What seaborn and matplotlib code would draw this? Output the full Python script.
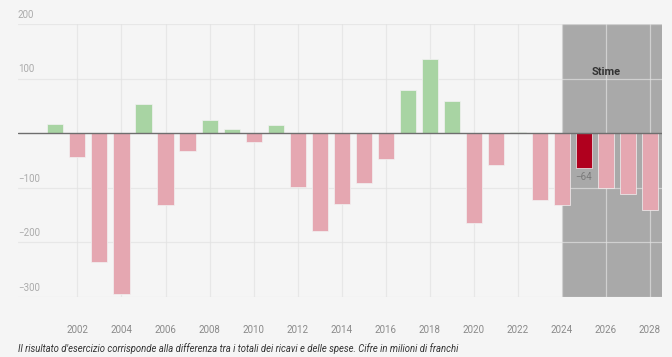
import matplotlib
matplotlib.use("Agg")
import matplotlib.pyplot as plt
import matplotlib.transforms as mtransforms
import seaborn as sns
import pandas as pd

# ---- data ----
years = list(range(2001, 2029))
values = [17, -43, -235, -295, 53, -132, -32, 24, 8, -16, 15, -99, -179, -129,
          -91, -48, 79, 136, 59, -165, -58, 2, -122, -132, -64, -101, -111, -140]
highlight_year = 2025
estimate_start = 2024
xtick_years = list(range(2002, 2029, 2))
ytick_values = [200, 100, -100, -200, -300]
ytick_labels = ["200", "100", "\u2212100", "\u2212200", "\u2212300"]
estimate_label = "Stime"
caption = ("Il risultato d'esercizio corrisponde alla differenza tra i totali dei ricavi "
           "e delle spese. Cifre in milioni di franchi")

df = pd.DataFrame({"year": years, "value": values})
df["kind"] = ["hl" if y == highlight_year else ("pos" if v >= 0 else "neg")
              for y, v in zip(df["year"], df["value"])]
palette = {"pos": "#a8d4a3", "neg": "#e5a7b1", "hl": "#b0001e"}

sns.set_theme(style="white")
plt.rcParams["font.family"] = ["Roboto", "DejaVu Sans"]

BG = "#f5f5f5"
fig = plt.figure(figsize=(6.72, 3.57), dpi=100, facecolor=BG)
ax = fig.add_axes([18 / 672, 1 - 297 / 357, (662 - 18) / 672, (297 - 24) / 357])
ax.set_facecolor(BG)

# estimates shading
ax.axvspan(estimate_start, 2028.55, color="#a9a9a9", zorder=0.2, lw=0)

sns.barplot(data=df, x="year", y="value", hue="kind", palette=palette,
            native_scale=True, dodge=False, width=0.73, legend=False,
            saturation=1, edgecolor="#f2f2f2", linewidth=0.5, ax=ax, zorder=2)

ax.set_xlim(1999.3, 2028.55)
ax.set_ylim(-300, 200)

# grid
ax.set_xticks(xtick_years)
ax.set_xticklabels([str(y) for y in xtick_years], fontsize=7, color="#8a8a8a")
ax.set_yticks(ytick_values)
ax.set_yticklabels([])
ax.tick_params(axis="both", length=0)
ax.tick_params(axis="x", pad=20)
ax.grid(True, color="#e2e2e2", alpha=0.7, linewidth=0.9, zorder=0.5)
ax.set_axisbelow(True)
for g in ax.get_xgridlines() + ax.get_ygridlines():
    g.set_zorder(0.5)

ax.axhline(0, color="#6e6e6e", linewidth=1.0, zorder=3)

for s in ax.spines.values():
    s.set_visible(False)
ax.set_xlabel("")
ax.set_ylabel("")

# y labels above grid lines
trans = mtransforms.blended_transform_factory(ax.transAxes, ax.transData)
off = mtransforms.offset_copy(trans, fig=fig, x=0, y=3, units="points")
for v, lab in zip(ytick_values, ytick_labels):
    ax.text(0.0, v, lab, transform=off, fontsize=7, color="#ababab",
            ha="left", va="bottom")

# highlighted value label
hv = df.loc[df["year"] == highlight_year, "value"].iloc[0]
ax.annotate(f"\u2212{abs(hv)}", xy=(highlight_year, hv), xytext=(0, -3),
            textcoords="offset points", ha="center", va="top",
            fontsize=7, color="#7a7a7a", zorder=4)

# estimate label
ax.text(2026, 113, estimate_label, ha="center", va="center", fontsize=8,
        fontweight="bold", color="#333333", zorder=4)

fig.text(18 / 672, 1 - 349 / 357, caption, fontsize=6.85, style="italic",
         color="#333333", ha="left", va="center")

fig.savefig("out.png", dpi=100, facecolor=BG)
